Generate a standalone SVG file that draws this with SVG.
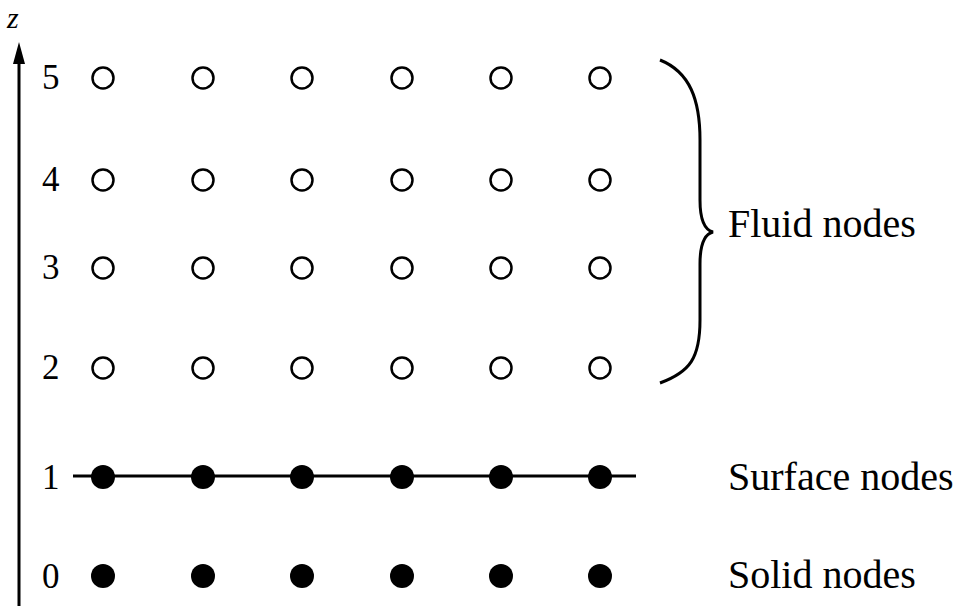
<svg xmlns="http://www.w3.org/2000/svg" width="961" height="606" viewBox="0 0 961 606">
<style>
text{font-family:"Liberation Serif","Times New Roman",serif;fill:#000}
.n{font-size:35px}
.l{font-size:40px}
.o{fill:none;stroke:#000;stroke-width:2.5}
.f{fill:#000}
.ln{fill:none;stroke:#000;stroke-width:3}
</style>
<rect width="961" height="606" fill="#fff"/>
<g id="connectors">
<line class="ln" x1="19" y1="606" x2="19" y2="58"/>
<polygon points="19,42 13,64 25,64" fill="#000"/>
<line class="ln" x1="73" y1="476" x2="636" y2="476"/>
<path class="ln" d="M660,60 C690,72 700,100 700,140 L700,200 C700,222 705,230 713,232 C705,234 700,242 700,264 L700,320 C700,358 690,372 660,383"/>
</g>
<g id="axis-labels">
<text x="7" y="28" font-style="italic" style="font-size:30px">z</text>
<text class="n" x="42" y="89">5</text>
<text class="n" x="42" y="191">4</text>
<text class="n" x="42" y="279">3</text>
<text class="n" x="42" y="379">2</text>
<text class="n" x="42" y="489">1</text>
<text class="n" x="42" y="588">0</text>
</g>
<g id="fluid-nodes">
<circle class="o" cx="103" cy="78" r="10.5"/><circle class="o" cx="203" cy="78" r="10.5"/><circle class="o" cx="302" cy="78" r="10.5"/><circle class="o" cx="402" cy="78" r="10.5"/><circle class="o" cx="501" cy="78" r="10.5"/><circle class="o" cx="600" cy="78" r="10.5"/>
<circle class="o" cx="103" cy="180" r="10.5"/><circle class="o" cx="203" cy="180" r="10.5"/><circle class="o" cx="302" cy="180" r="10.5"/><circle class="o" cx="402" cy="180" r="10.5"/><circle class="o" cx="501" cy="180" r="10.5"/><circle class="o" cx="600" cy="180" r="10.5"/>
<circle class="o" cx="103" cy="268" r="10.5"/><circle class="o" cx="203" cy="268" r="10.5"/><circle class="o" cx="302" cy="268" r="10.5"/><circle class="o" cx="402" cy="268" r="10.5"/><circle class="o" cx="501" cy="268" r="10.5"/><circle class="o" cx="600" cy="268" r="10.5"/>
<circle class="o" cx="103" cy="368" r="10.5"/><circle class="o" cx="203" cy="368" r="10.5"/><circle class="o" cx="302" cy="368" r="10.5"/><circle class="o" cx="402" cy="368" r="10.5"/><circle class="o" cx="501" cy="368" r="10.5"/><circle class="o" cx="600" cy="368" r="10.5"/>
</g>
<g id="surface-nodes">
<circle class="f" cx="103" cy="477" r="12"/><circle class="f" cx="203" cy="477" r="12"/><circle class="f" cx="302" cy="477" r="12"/><circle class="f" cx="402" cy="477" r="12"/><circle class="f" cx="501" cy="477" r="12"/><circle class="f" cx="600" cy="477" r="12"/>
</g>
<g id="solid-nodes">
<circle class="f" cx="103" cy="576" r="12"/><circle class="f" cx="203" cy="576" r="12"/><circle class="f" cx="302" cy="576" r="12"/><circle class="f" cx="402" cy="576" r="12"/><circle class="f" cx="501" cy="576" r="12"/><circle class="f" cx="600" cy="576" r="12"/>
</g>
<g id="labels">
<text class="l" x="728" y="237">Fluid nodes</text>
<text class="l" x="728" y="490">Surface nodes</text>
<text class="l" x="728" y="588">Solid nodes</text>
</g>
</svg>
